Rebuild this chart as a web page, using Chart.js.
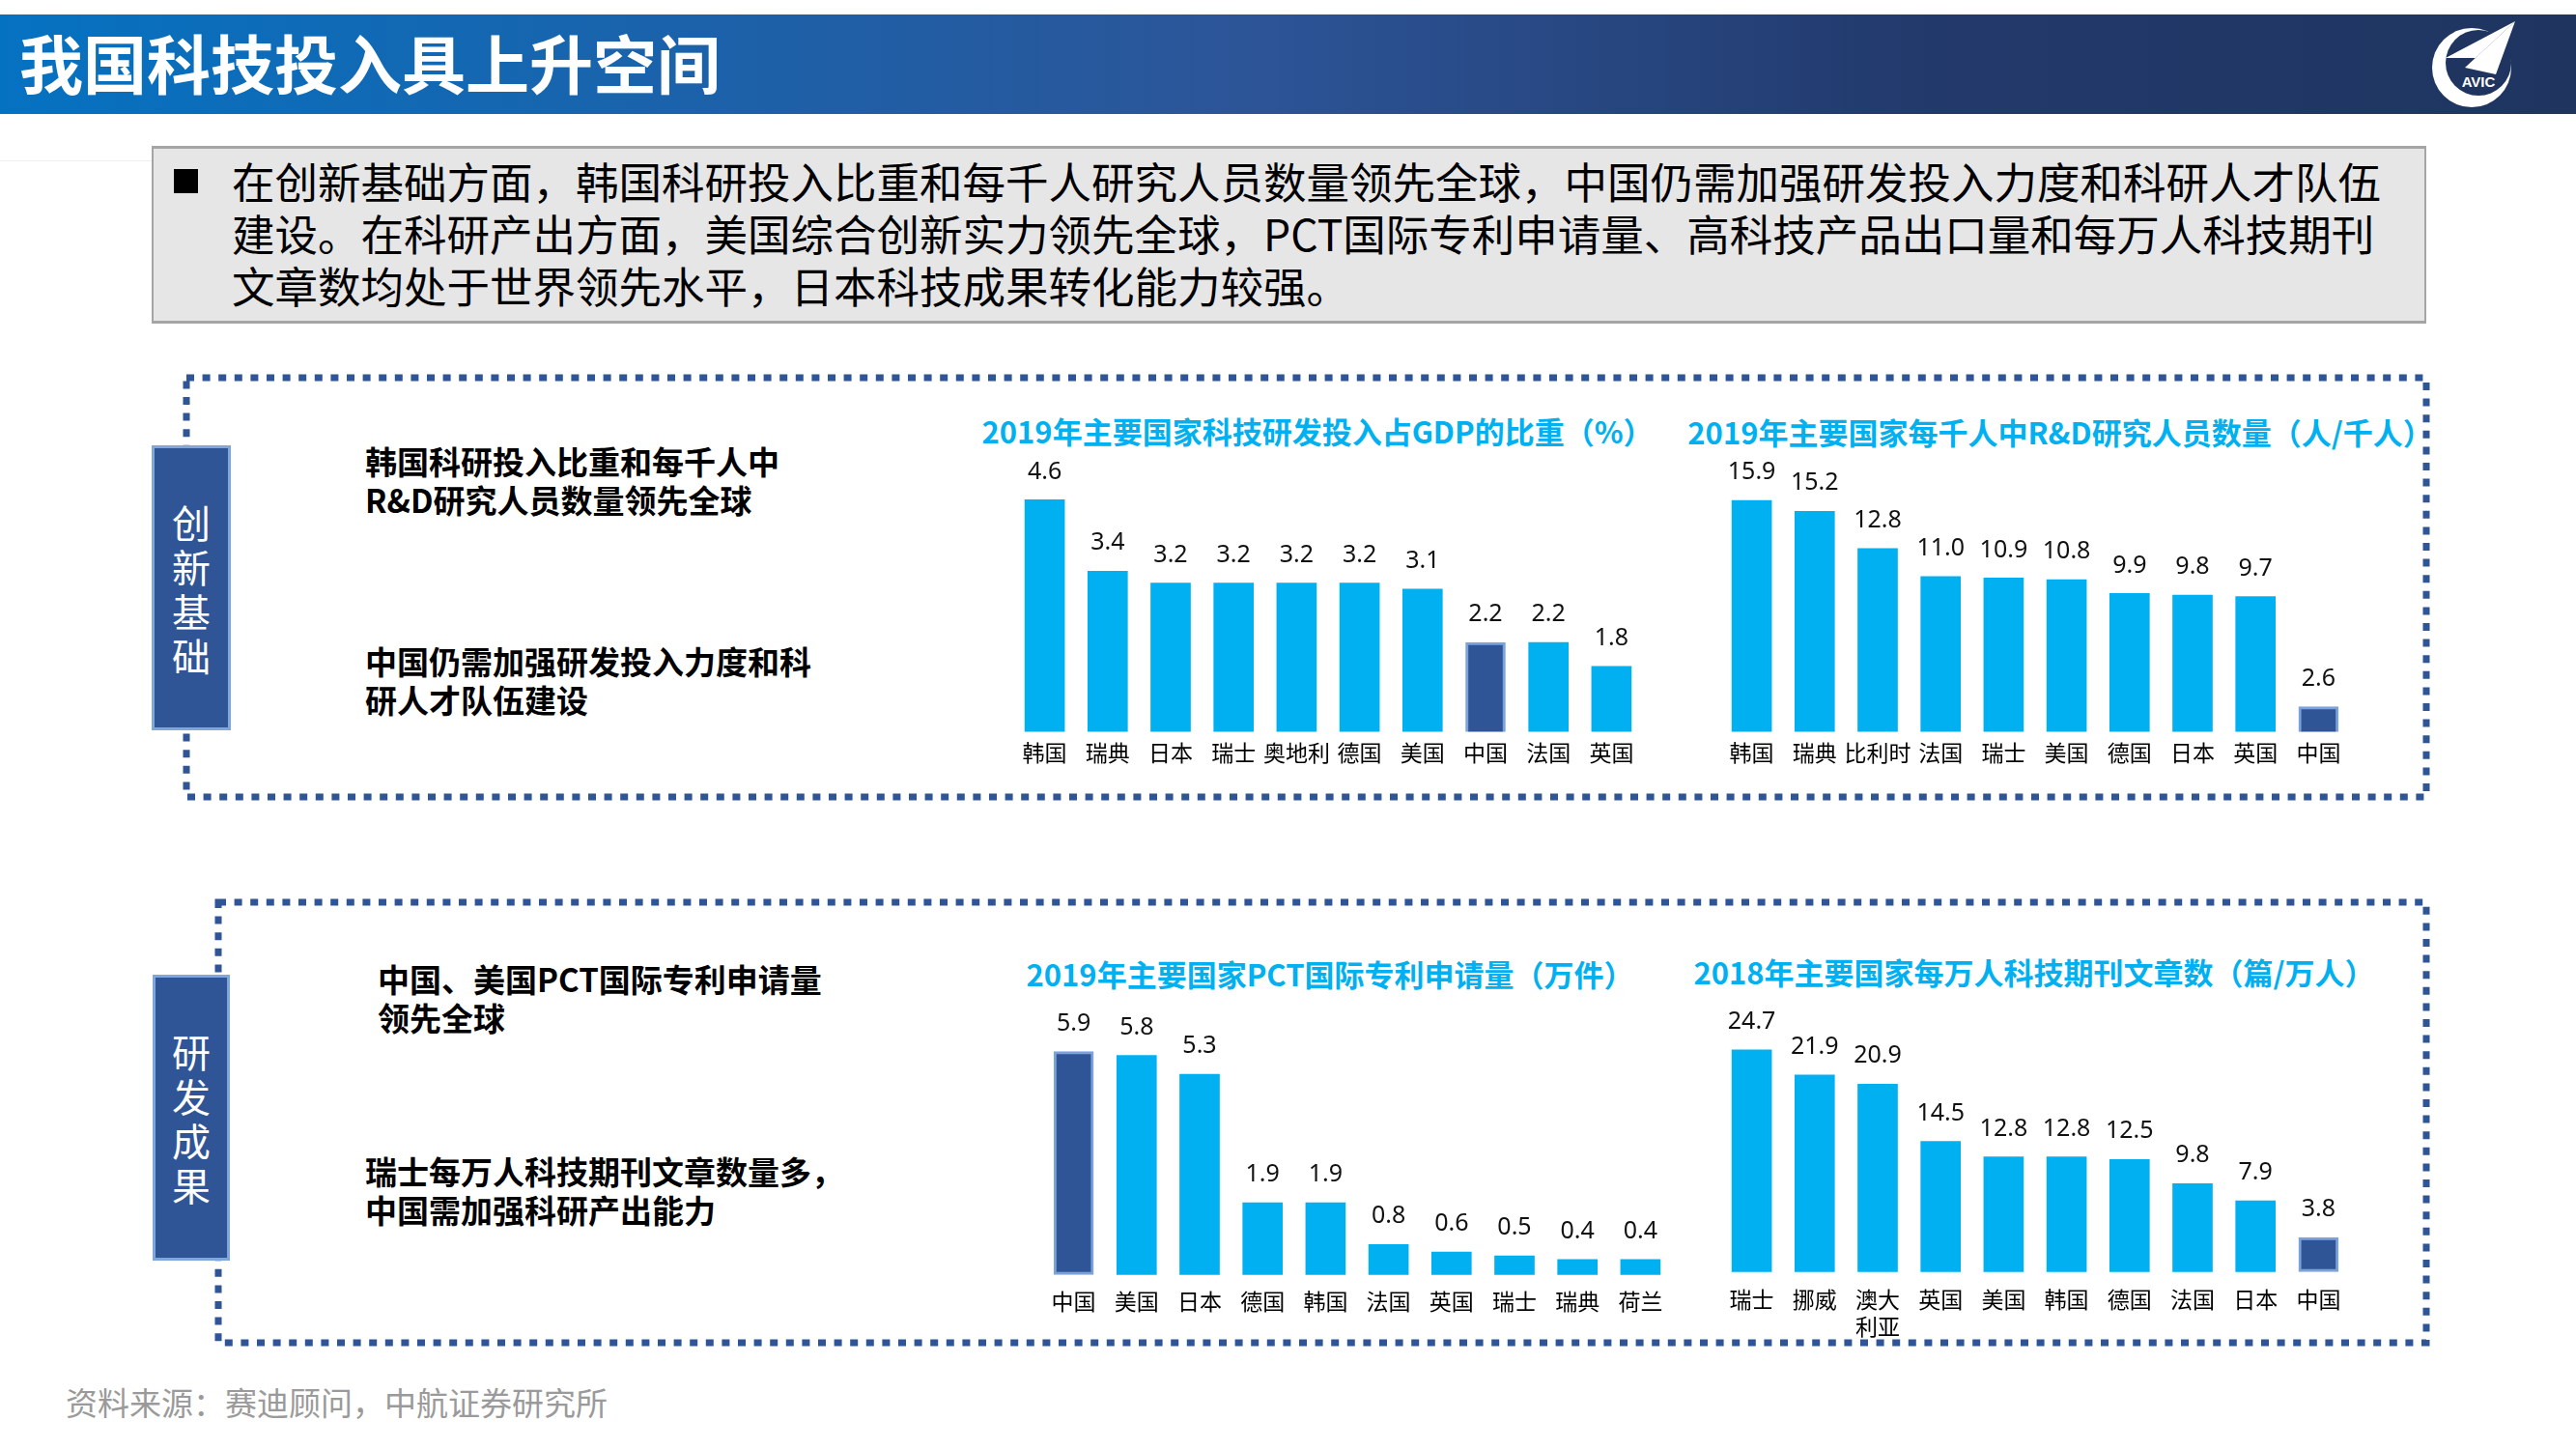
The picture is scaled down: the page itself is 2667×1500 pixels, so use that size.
<!DOCTYPE html>
<html>
<head>
<meta charset="utf-8">
<script src="https://cdn.jsdelivr.net/npm/chart.js@4.4.1/dist/chart.umd.min.js"></script>
<style>
  body { margin: 0; width: 2667px; height: 1500px; position: relative; background: #fff; overflow: hidden;
         font-family: "Noto Sans CJK SC", "Noto Sans", sans-serif; }
  .abs { position: absolute; }
  .header { left: 0; top: 15px; width: 2667px; height: 103px;
            background: linear-gradient(90deg, #0572C1 0%, #2C5598 48%, #22396B 75%, #1F3560 100%); }
  .htitle { left: 20px; top: 23px; font-size: 66px; line-height: 80px; font-weight: 700; color: #fff; white-space: nowrap; }
  .box { left: 157px; top: 151px; width: 2351px; height: 178px; background: #E6E6E6; border: 2px solid #A5A5A5;
         border-top-width: 3px; border-bottom-width: 3px; }
  .bullet { left: 180px; top: 175px; width: 25px; height: 25px; background: #000; }
  .boxtext { left: 240px; top: 160px; font-size: 44.5px; line-height: 54px; color: #000; white-space: nowrap; }
  .side { font-size: 33px; line-height: 40px; font-weight: 700; color: #000; white-space: nowrap; }
  .ctitle { font-size: 31px; line-height: 40px; font-weight: 700; color: #00B0F0; white-space: nowrap; transform: translateX(-50%); }
  .tag { background: #2F5597; border: 3px solid #7FA7DC; box-sizing: border-box; color: #fff; font-size: 40px;
         line-height: 46px; display: flex; align-items: center; justify-content: center; text-align: center; z-index: 2; }
  .src { left: 68px; top: 1431px; font-size: 33px; line-height: 40px; color: #9A9A9A; white-space: nowrap; }
  canvas { position: absolute; }
</style>
</head>
<body>

<div class="abs header"></div>
<div class="abs htitle">我国科技投入具上升空间</div>
<svg class="abs" style="left:0;top:0" width="2667" height="1500">
  <circle cx="2559" cy="70" r="41" fill="#fff"/>
  <circle cx="2566" cy="65" r="34" fill="#1F3560"/>
  <polygon points="2604,22 2532,60 2563,60" fill="#fff"/>
  <polygon points="2604,22 2552,70 2584,77" fill="#fff"/>
  <text x="2566" y="90" font-size="15" font-weight="700" fill="#fff" text-anchor="middle" font-family="Liberation Sans, sans-serif">AVIC</text>
  <rect x="193" y="391" width="2319" height="434" fill="none" stroke="#2F5597" stroke-width="7" stroke-dasharray="8 8.6"/>
  <rect x="226" y="934" width="2286" height="456" fill="none" stroke="#2F5597" stroke-width="7" stroke-dasharray="8 8.6"/>
</svg>
<div class="abs" style="left:0;top:166px;width:157px;height:1px;background:#EEEEEE"></div>

<div class="abs box"></div>
<div class="abs bullet"></div>
<div class="abs boxtext">在创新基础方面，韩国科研投入比重和每千人研究人员数量领先全球，中国仍需加强研发投入力度和科研人才队伍<br>建设。在科研产出方面，美国综合创新实力领先全球，PCT国际专利申请量、高科技产品出口量和每万人科技期刊<br>文章数均处于世界领先水平，日本科技成果转化能力较强。</div>

<div class="abs tag" style="left:157px;top:461px;width:82px;height:295px">创<br>新<br>基<br>础</div>
<div class="abs tag" style="left:158px;top:1009px;width:80px;height:296px">研<br>发<br>成<br>果</div>

<div class="abs side" style="left:378px;top:457px">韩国科研投入比重和每千人中<br>R&amp;D研究人员数量领先全球</div>
<div class="abs side" style="left:378px;top:664px">中国仍需加强研发投入力度和科<br>研人才队伍建设</div>
<div class="abs side" style="left:391px;top:993px">中国、美国PCT国际专利申请量<br>领先全球</div>
<div class="abs side" style="left:378px;top:1192px">瑞士每万人科技期刊文章数量多，<br>中国需加强科研产出能力</div>

<div class="abs ctitle" style="left:1364px;top:426px">2019年主要国家科技研发投入占GDP的比重（%）</div>
<div class="abs ctitle" style="left:2133px;top:427px">2019年主要国家每千人中R&amp;D研究人员数量（人/千人）</div>
<div class="abs ctitle" style="left:1377px;top:988px">2019年主要国家PCT国际专利申请量（万件）</div>
<div class="abs ctitle" style="left:2106px;top:986px">2018年主要国家每万人科技期刊文章数（篇/万人）</div>

<canvas id="rdChart" width="652" height="334" style="left:1049px;top:467px"></canvas>
<canvas id="staffChart" width="652" height="334" style="left:1781px;top:467px"></canvas>
<canvas id="pctChart" width="652" height="334" style="left:1079px;top:1035px"></canvas>
<canvas id="paperChart" width="652" height="361" style="left:1781px;top:1034px"></canvas>

<div class="abs src">资料来源：赛迪顾问，中航证券研究所</div>

<script>
const rdCountries = ['韩国', '瑞典', '日本', '瑞士', '奥地利', '德国', '美国', '中国', '法国', '英国'];
const rdShare = [4.6, 3.4, 3.2, 3.2, 3.2, 3.2, 3.1, 2.2, 2.2, 1.8];

const staffCountries = ['韩国', '瑞典', '比利时', '法国', '瑞士', '美国', '德国', '日本', '英国', '中国'];
const staffPerThousand = [15.9, 15.2, 12.8, 11.0, 10.9, 10.8, 9.9, 9.8, 9.7, 2.6];

const pctCountries = ['中国', '美国', '日本', '德国', '韩国', '法国', '英国', '瑞士', '瑞典', '荷兰'];
const pctApps = [5.9, 5.8, 5.3, 1.9, 1.9, 0.8, 0.6, 0.5, 0.4, 0.4];

const paperCountries = ['瑞士', '挪威', ['澳大', '利亚'], '英国', '美国', '韩国', '德国', '法国', '日本', '中国'];
const paperPerTenK = [24.7, 21.9, 20.9, 14.5, 12.8, 12.8, 12.5, 9.8, 7.9, 3.8];

const FONT = '"Noto Sans CJK SC", "Noto Sans", sans-serif';

// numbers above each bar
const valueLabels = {
  id: 'valueLabels',
  afterDatasetsDraw(chart) {
    const ctx = chart.ctx;
    const ds = chart.data.datasets[0];
    ctx.save();
    ctx.font = '25px "Noto Sans", sans-serif';
    ctx.fillStyle = '#111';
    ctx.textAlign = 'center';
    ctx.textBaseline = 'middle';
    chart.getDatasetMeta(0).data.forEach((bar, i) => {
      ctx.fillText(ds.data[i].toFixed(1), bar.x, bar.y - 29);
    });
    ctx.restore();
  }
};

function createChart(id, labels, values, yMin, yMax) {
  const isChina = labels.map(l => l === '中国');
  return new Chart(document.getElementById(id), {
    type: 'bar',
    data: {
      labels: labels,
      datasets: [{
        data: values,
        backgroundColor: isChina.map(c => c ? '#2F5597' : '#00B0F0'),
        borderColor: isChina.map(c => c ? '#7CA2DA' : '#00B0F0'),
        borderWidth: isChina.map(c => c ? 3 : 0),
        borderSkipped: false,
        barThickness: 41
      }]
    },
    options: {
      responsive: false,
      animation: false,
      devicePixelRatio: 1,
      layout: { padding: 0 },
      plugins: { legend: { display: false }, tooltip: { enabled: false } },
      scales: {
        x: {
          grid: { display: false, drawTicks: false },
          border: { display: false },
          ticks: { color: '#000', padding: 8, maxRotation: 0, autoSkip: false, font: { family: FONT, size: 23 } }
        },
        y: { display: false, min: yMin, max: yMax }
      }
    },
    plugins: [valueLabels]
  });
}

createChart('rdChart', rdCountries, rdShare, 0.7, 5.42);
createChart('staffChart', staffCountries, staffPerThousand, 1.0, 19.08);
createChart('pctChart', pctCountries, pctApps, -0.15, 7.27);
createChart('paperChart', paperCountries, paperPerTenK, -0.8, 30.4);
</script>
</body>
</html>
